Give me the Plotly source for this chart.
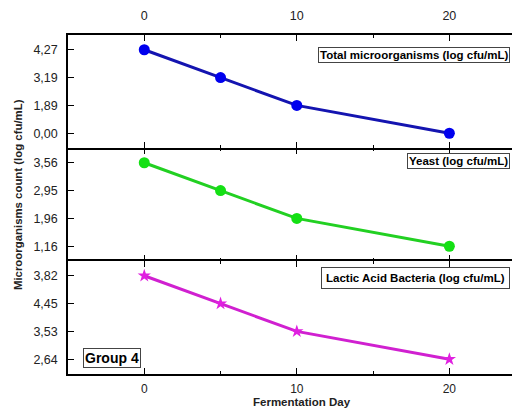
import plotly.graph_objects as go
from plotly.subplots import make_subplots

days = [0, 5, 10, 20]
total_micro = [4.27, 3.19, 1.89, 0.00]
yeast = [3.56, 2.95, 1.96, 1.16]
lab = [3.82, 4.45, 3.53, 2.64]

series_names = ["Total microorganisms (log cfu/mL)", "Yeast (log cfu/mL)",
                "Lactic Acid Bacteria (log cfu/mL)"]
x_ticks = [0, 10, 20]
group_label = "Group 4"
x_title = "Fermentation Day"
y_title = "Microorganisms count (log cfu/mL)"

FONT = "Liberation Sans, Arial"


def lbl(v):
    return f"{v:.2f}".replace(".", ",")


fig = make_subplots(rows=3, cols=1, vertical_spacing=0)

styles = [
    dict(line=dict(color="#1414b0", width=3), marker=dict(color="#0000ee", size=11, symbol="circle")),
    dict(line=dict(color="#22d022", width=3), marker=dict(color="#14e014", size=11, symbol="circle")),
    dict(line=dict(color="#d020d0", width=3), marker=dict(color="#e020e0", size=10, symbol="star")),
]

for i, vals in enumerate([total_micro, yeast, lab]):
    labels = [lbl(v) for v in vals]
    fig.add_trace(go.Scatter(x=days, y=labels, mode="lines+markers",
                             showlegend=False, **styles[i]), row=i + 1, col=1)
    fig.update_yaxes(type="category", categoryorder="array",
                     categoryarray=labels[::-1], range=[-0.53, 3.53],
                     row=i + 1, col=1)

axis_common = dict(showline=True, linecolor="black", linewidth=1.5, mirror="ticks",
                   ticks="inside", ticklen=6, tickwidth=1, tickcolor="black",
                   showgrid=False, zeroline=False,
                   tickfont=dict(family=FONT, size=12.5, color="#222"))

fig.update_yaxes(**axis_common, ticklabelstandoff=6)
fig.update_xaxes(**axis_common, range=[-5, 24.5], tickmode="array", tickvals=x_ticks,
                 minor=dict(ticks="inside", ticklen=3, dtick=5, tick0=0, tickcolor="black"))
fig.update_xaxes(showticklabels=False, showline=False, row=2, col=1)
fig.update_xaxes(side="top", showticklabels=True, ticklabelstandoff=8, row=1, col=1)
fig.update_xaxes(showticklabels=True, ticklabelstandoff=3, row=3, col=1,
                 tickfont=dict(family=FONT, size=12, color="#222"))

box_font = dict(family=FONT, size=11.5, color="black")
box_y = [0.9646, 0.652, 0.3156]
pads = [1, 1, 4]
for i, name in enumerate(series_names):
    fig.add_annotation(text="<b>" + name + "</b>", xref="paper", yref="paper",
                       x=0.982, y=box_y[i], xanchor="right", yanchor="top",
                       showarrow=False, font=box_font, bgcolor="white",
                       bordercolor="#444", borderwidth=1, borderpad=pads[i])

fig.add_annotation(text="<b>" + group_label + "</b>", xref="paper", yref="paper",
                   x=0.033, y=0.0177, xanchor="left", yanchor="bottom",
                   showarrow=False, bgcolor="white", bordercolor="#444", borderwidth=1,
                   borderpad=1, font=dict(family=FONT, size=14, color="black"))

fig.add_annotation(text="<b>" + y_title + "</b>", xref="paper", yref="paper",
                   x=-0.111, y=0.528, xanchor="center", yanchor="middle", textangle=-90,
                   showarrow=False, font=dict(family=FONT, size=11.4, color="#222"))

fig.add_annotation(text="<b>" + x_title + "</b>", xref="paper", yref="paper",
                   x=0.521, y=-0.1032, xanchor="center", yanchor="bottom",
                   showarrow=False, borderpad=0,
                   font=dict(family=FONT, size=11.5, color="#222"))

# page body has an 8px margin: shrink the figure so it fits the 520x410 window
fig.update_layout(width=512, height=402, margin=dict(l=60, r=0, t=27, b=36),
                  plot_bgcolor="white", paper_bgcolor="white")

fig.write_html("out.html")
